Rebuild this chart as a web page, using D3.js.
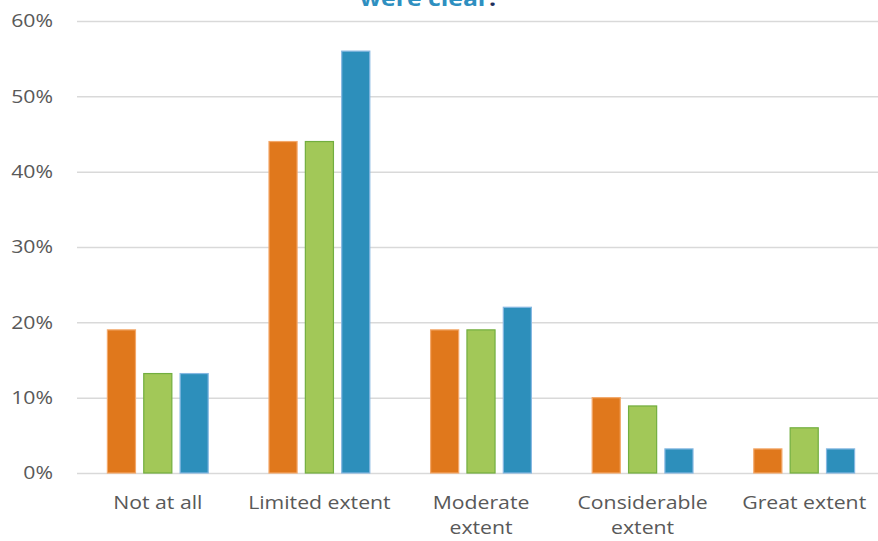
<!DOCTYPE html>
<html><head><meta charset="utf-8">
<script src="https://cdn.jsdelivr.net/npm/d3@7"></script>
<style>body{margin:0;background:#fff;overflow:hidden}</style>
</head><body>
<svg id="c" width="878" height="541"></svg>
<script>
const categories = [["Not at all"],["Limited extent"],["Moderate","extent"],["Considerable","extent"],["Great extent"]];
const seriesNames = ["Group A","Group B","Group C"];
const seriesA = [0.19, 0.44, 0.19, 0.10, 0.032];
const seriesB = [0.132, 0.44, 0.19, 0.089, 0.06];
const seriesC = [0.132, 0.56, 0.22, 0.032, 0.032];
const yTicks = [0,0.1,0.2,0.3,0.4,0.5,0.6];
const fills = ["#E0781C","#A2C858","#2D8FBB"];
const strokes = ["#F3A86A","#72AE3F","#86B8E2"];

(function(){
const svg = d3.select("#c");
const pL = 77, pR = 885, pT = 21, pB = 473;
const sx = 1.18;
const y = d3.scaleLinear().domain([0,0.6]).range([pB, pT]);
const x0 = d3.scaleBand().domain(d3.range(categories.length)).range([pL,pR]).paddingInner(0.37).paddingOuter(0.185);
const x1 = d3.scaleBand().domain(d3.range(3)).range([0,x0.bandwidth()]).paddingInner(0.2);

svg.append("text").attr("transform",`translate(428,6) scale(${sx},1)`).attr("text-anchor","middle")
  .attr("font-family","Open Sans").attr("font-weight","bold").attr("font-size",21)
  .attr("fill","#2E8FC0")
  .html('were clear<tspan fill="#1F2F5C">.</tspan>');

const yAxis = d3.axisLeft(y).tickValues(yTicks).tickSize(-(pR-pL)).tickFormat(d3.format(".0%"));
const g = svg.append("g").attr("transform",`translate(${pL},0)`).call(yAxis);
g.select(".domain").remove();
g.selectAll(".tick line").attr("stroke","#D9D9D9").attr("stroke-width",1.5);
g.selectAll(".tick text").attr("x",-24/sx).attr("transform",`scale(${sx},1)`)
  .attr("font-family","Open Sans").attr("font-size",18).attr("fill","#595959");

const series = [seriesA, seriesB, seriesC];
categories.forEach((c,i)=>{
  series.forEach((s,j)=>{
    svg.append("rect")
      .attr("x", x0(i)+x1(j)+0.5).attr("y", y(s[i]))
      .attr("width", x1.bandwidth()-1).attr("height", pB - y(s[i]))
      .attr("fill", fills[j]).attr("stroke", strokes[j]).attr("stroke-width",1.2);
  });
});

const xl = svg.append("g");
categories.forEach((c,i)=>{
  const cx = x0(i)+x0.bandwidth()/2;
  const t = xl.append("text").attr("transform",`translate(${cx},509) scale(${sx},1)`)
    .attr("text-anchor","middle").attr("font-family","Open Sans").attr("font-size",18).attr("fill","#595959");
  c.forEach((line,k)=>{
    t.append("tspan").attr("x", 0).attr("dy", k===0?0:25).text(line);
  });
});
})();
</script>
</body></html>
